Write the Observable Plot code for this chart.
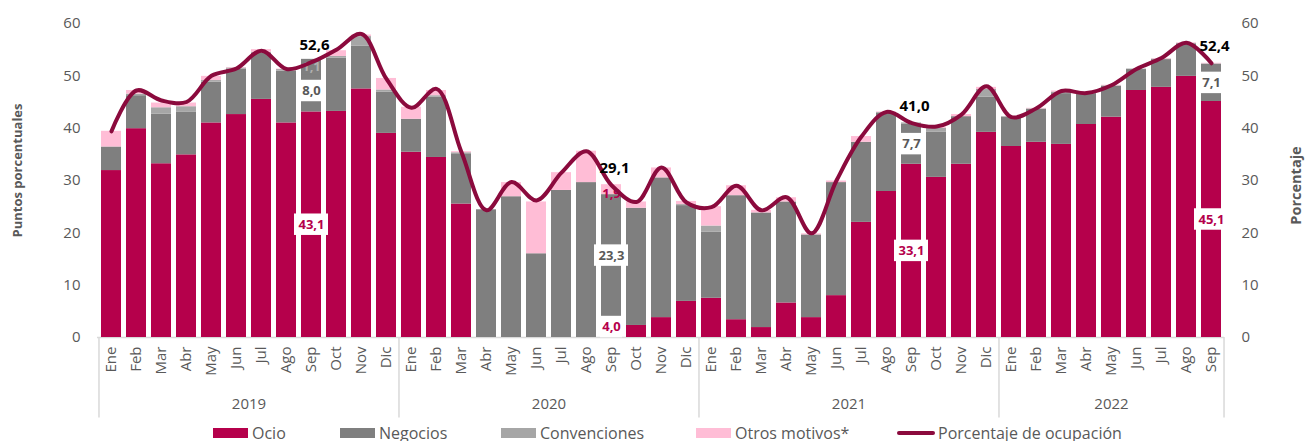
<!DOCTYPE html>
<html><head><meta charset="utf-8">
<script src="https://cdn.jsdelivr.net/npm/d3@7"></script>
<script src="https://cdn.jsdelivr.net/npm/@observablehq/plot@0.6"></script>
<style>
body{margin:0;background:#fff;font-family:"Open Sans",sans-serif;}
#legend{position:relative;height:21px;width:1308px;color:#595959;font-size:16px;}
.item{position:absolute;top:2px;height:21px;display:flex;align-items:center;white-space:nowrap;}
.sw{width:35px;height:10px;margin-right:4px;}
.ln{width:38px;height:4px;border-radius:2px;margin-right:3px;}
</style></head><body>
<div id="chart"></div>
<div id="legend"></div>
<script>
const months = ["Ene","Feb","Mar","Abr","May","Jun","Jul","Ago","Sep","Oct","Nov","Dic"];
const years = ["2019","2020","2021","2022"];
const monthsPerYear = [12,12,12,9];
const series = ["Ocio","Negocios","Convenciones","Otros motivos*"];
const lineName = "Porcentaje de ocupación";
const yTicks = [0,10,20,30,40,50,60];

const ocio = [
  31.9,39.9,33.2,34.9,41.0,42.6,45.5,41.0,43.1,43.2,47.5,39.0,
  35.4,34.4,25.5,0,0,0,0,0,4.0,2.3,3.8,6.9,
  7.5,3.4,1.9,6.6,3.8,8.0,22.0,27.9,33.1,30.6,33.1,39.2,
  36.5,37.3,36.9,40.7,42.1,47.2,47.8,49.9,45.1];
const negocios = [
  4.5,6.3,9.5,8.2,7.8,8.7,8.8,9.9,8.0,10.2,8.2,7.9,
  6.3,11.5,9.6,24.4,26.9,16.0,28.1,29.6,23.3,22.4,26.7,18.3,
  12.6,23.7,21.9,19.3,15.8,21.6,15.3,15.0,7.7,8.6,9.1,6.7,
  5.6,6.3,9.7,5.9,5.9,4.0,5.3,6.2,7.1];
const convenciones = [
  0,0.3,1.2,1.0,0.3,0.2,0.2,0.3,1.1,0.3,1.8,0.4,
  0,0.3,0.2,0,0,0,0,0,0,0,0,0.2,
  1.2,0,0,0,0,0,0,0.1,0.2,0.8,0,1.5,
  0.1,0.1,0.3,0.1,0.1,0.1,0.1,0.1,0.1];
const otros = [
  3.0,0.7,0.9,0.7,0.8,0.1,0.5,0.1,0.4,1.1,0.3,2.2,
  2.3,1.0,0.2,0,2.7,9.9,3.4,6.0,1.9,1.2,1.9,0.6,
  3.7,1.9,0.5,0.8,0.2,0.3,1.1,0.1,0,0.2,0.4,0.4,
  0,0.1,0.2,0,0.1,0,0.1,0.1,0.1];
const ocupacion = [
  39.4,47.2,45.3,45.0,50.0,51.4,54.8,51.3,52.6,55.0,58.0,49.4,
  43.9,47.5,35.4,24.3,29.7,26.2,31.5,35.6,29.1,25.9,32.5,25.8,
  24.9,29.0,24.3,26.8,19.9,30.0,38.4,43.1,41.0,40.3,42.6,48.0,
  42.1,43.8,47.1,46.7,48.2,51.3,53.4,56.3,52.4];
const labelMonth = "Sep";

const colors = ["#b5004b","#7f7f7f","#a6a6a6","#ffbdd6"];
const lineColor = "#8b0a3d";
const textGray = "#595959";

const keys = [];
years.forEach((y,i) => months.slice(0, monthsPerYear[i]).forEach(m => keys.push(`${y}-${m}`)));
const fmt = v => v.toFixed(1).replace(".", ",");

const seriesValues = [ocio, negocios, convenciones, otros];
const long = [];
keys.forEach((k,i) => series.forEach((s,j) => long.push({key:k, serie:s, value:seriesValues[j][i]})));
const lineData = keys.map((k,i) => ({key:k, value:ocupacion[i]}));

const labIdx = keys.map((k,i)=>i).filter(i => keys[i].endsWith("-" + labelMonth));
const boxLabels = [];
labIdx.forEach(i => {
  boxLabels.push({key:keys[i], y:ocio[i]/2, text:fmt(ocio[i]), color:colors[0]});
  boxLabels.push({key:keys[i], y:ocio[i]+negocios[i]/2, text:fmt(negocios[i]), color:textGray});
});
const extraLabels = [];
labIdx.forEach(i => {
  if (convenciones[i] >= 1) extraLabels.push({key:keys[i], y:ocio[i]+negocios[i]+convenciones[i]/2, text:fmt(convenciones[i]), color:"#b0b0b0", kind:"conv"});
  if (otros[i] >= 1) extraLabels.push({key:keys[i], y:ocio[i]+negocios[i]+convenciones[i]+otros[i]/2 - 0.8, text:fmt(otros[i]), color:colors[0], kind:"otros"});
});
const totalLabels = labIdx.map(i => ({key:keys[i], y:ocupacion[i], text:fmt(ocupacion[i])}));

const groupStarts = [];
const yearLabels = [];
let c = 0;
years.forEach((y,i) => {
  const n = monthsPerYear[i];
  groupStarts.push(keys[c]);
  yearLabels.push({year:y, key:keys[c + Math.floor((n-1)/2)], even: n % 2 === 0});
  c += n;
});

const W = 1308, H = 420, ml = 97, mr = 84, mt = 23, mb = 83;
const step = (W - ml - mr) / keys.length;
const boxH = 2.05;

const chart = Plot.plot({
  width: W, height: H,
  marginLeft: ml, marginRight: mr, marginTop: mt, marginBottom: mb,
  style: {fontFamily: "Open Sans", fontSize: "15px", color: textGray, background: "#fff"},
  x: {domain: keys, paddingInner: 0.2, paddingOuter: 0.1, axis: null},
  y: {domain: [0, 60], axis: null},
  color: {domain: series, range: colors},
  marks: [
    Plot.ruleY([0], {stroke: "#d9d9d9", strokeWidth: 1.5}),
    Plot.ruleX(groupStarts, {x: d => d, y1: 0, y2: -15.4, stroke: "#d9d9d9", strokeWidth: 1.5, dx: -step/2}),
    Plot.ruleX([keys[keys.length-1]], {x: d => d, y1: 0, y2: -15.4, stroke: "#d9d9d9", strokeWidth: 1.5, dx: step/2}),
    Plot.barY(long, {x: "key", y: "value", fill: "serie"}),
    Plot.barY(extraLabels.filter(d => d.kind === "conv"), {x: "key", y1: d => d.y - 1.5, y2: d => d.y + 1.5, fill: "#7f7f7f"}),
    Plot.barY(boxLabels.filter(d => d.text.length <= 3), {x: "key", y1: d => d.y - boxH, y2: d => d.y + boxH, fill: "white", insetLeft: -1, insetRight: -1}),
    Plot.barY(boxLabels.filter(d => d.text.length > 3), {x: "key", y1: d => d.y - boxH, y2: d => d.y + boxH, fill: "white", insetLeft: -7, insetRight: -7}),
    Plot.text(boxLabels, {x: "key", y: "y", text: "text", fill: "color", fontWeight: "bold", fontSize: 13}),
    Plot.text(extraLabels, {x: "key", y: "y", text: "text", fill: "color", fontWeight: "bold", fontSize: 13}),
    Plot.line(lineData, {x: "key", y: "value", stroke: lineColor, strokeWidth: 4, curve: "catmull-rom"}),
    Plot.text(totalLabels, {x: "key", y: "y", text: "text", fill: "#000", fontWeight: "bold", fontSize: 15, dy: -17, dx: 3}),
    Plot.axisY({anchor: "left", ticks: yTicks, tickSize: 0, tickPadding: 17, label: null, fontSize: 15}),
    Plot.axisY({anchor: "right", ticks: yTicks, tickSize: 0, tickPadding: 17, label: null, fontSize: 15}),
    Plot.axisX({tickFormat: d => d.split("-")[1], tickRotate: -90, tickSize: 0, tickPadding: 9, fontSize: 15, label: null}),
    Plot.text(yearLabels.filter(d => d.even), {x: "key", text: "year", frameAnchor: "bottom", dy: 71, dx: step/2, fontSize: 15}),
    Plot.text(yearLabels.filter(d => !d.even), {x: "key", text: "year", frameAnchor: "bottom", dy: 71, fontSize: 15}),
    Plot.text(["Puntos porcentuales"], {frameAnchor: "left", textAnchor: "middle", dx: -80, dy: -10, rotate: -90, fontWeight: "bold", fontSize: 13, fill: textGray}),
    Plot.text(["Porcentaje"], {frameAnchor: "right", textAnchor: "middle", dx: 72, dy: 5, rotate: -90, fontWeight: "bold", fontSize: 14.5, fill: textGray})
  ]
});
document.getElementById("chart").appendChild(chart);

const legendX = [213, 340, 501, 696, 897];
const legend = document.getElementById("legend");
const items = series.map((s,i) => ({name:s, color:colors[i], line:false})).concat([{name:lineName, color:lineColor, line:true}]);
items.forEach((it,i) => {
  const d = document.createElement("div");
  d.className = "item";
  d.style.left = legendX[i] + "px";
  const sw = document.createElement("span");
  sw.className = it.line ? "ln" : "sw";
  sw.style.background = it.color;
  const t = document.createElement("span");
  t.textContent = it.name;
  d.appendChild(sw); d.appendChild(t);
  legend.appendChild(d);
});
</script>
</body></html>
